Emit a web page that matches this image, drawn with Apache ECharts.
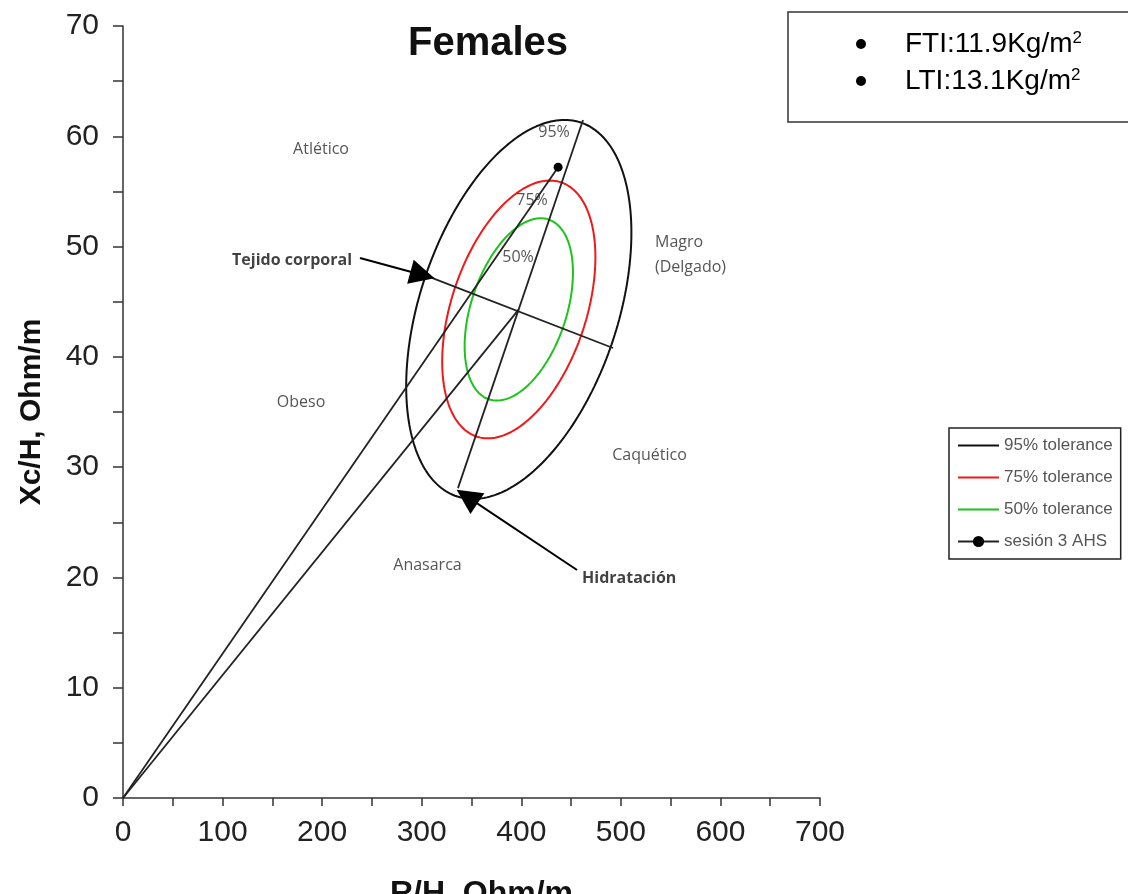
<!DOCTYPE html>
<html><head><meta charset="utf-8">
<script src="https://cdn.jsdelivr.net/npm/echarts@6/dist/echarts.min.js"></script>
<style>html,body{margin:0;padding:0;background:#fff;overflow:hidden}#c{width:1128px;height:894px}</style>
</head><body><div id="c"></div>
<script>
// ---- axes ----
const xAxisTicks = [0, 100, 200, 300, 400, 500, 600, 700];
const yAxisTicks = [0, 10, 20, 30, 40, 50, 60, 70];
const xAxisName = 'R/H, Ohm/m';
const yAxisName = 'Xc/H, Ohm/m';
const chartTitle = 'Females';

// ---- reference population (tolerance ellipses) ----
const refMean = [397.5, 44.3];      // mean R/H, mean Xc/H
const refSD = [46.2, 7.02];         // SD of R/H, SD of Xc/H
const refCorr = 0.405;              // correlation R/H - Xc/H
const toleranceNames = ['95% tolerance', '75% tolerance', '50% tolerance'];
const toleranceProb = [0.95, 0.75, 0.50];
const toleranceColors = ['#111111', '#f01818', '#1cc41c'];

// ---- patient ----
const patientName = 'sesión 3 AHS';
const patientPoint = [437, 57.2];

// ---- ellipse axes (major = hydration, minor = soft tissue) ----
const majorAxisEnds = [[462, 61.47], [336.4, 28.1]];
const minorAxisEnds = [[308.3, 47.23], [492.1, 40.8]];

// ---- arrows ----
const arrowNames = ['Tejido corporal', 'Hidratación'];
const arrowStarts = [[238.0, 48.96], [456.0, 20.67]];
const arrowEnds = [[300.8, 47.42], [345.5, 27.33]];
const arrowLabelAnchors = [[230.0, 48.78], [461.0, 19.95]];

// ---- region labels ----
const regionLabels = ['Atlético', 'Obeso', 'Caquético', 'Anasarca'];
const regionLabelAnchors = [[198.9, 58.84], [178.8, 35.9], [528.8, 31.1], [305.8, 21.12]];
const leftAlignedLabels = ['Magro', '(Delgado)'];
const leftAlignedAnchors = [[534.3, 50.4], [534.3, 48.14]];
const toleranceLabels = ['95%', '75%', '50%'];
const toleranceLabelAnchors = [[432.9, 60.38], [410.8, 54.2], [396.7, 49.05]];

// ---- info box ----
const infoLines = [['FTI:11.9Kg/m', '2'], ['LTI:13.1Kg/m', '2']];

function toleranceEllipse(p) {
  const k = Math.sqrt(-2 * Math.log(1 - p));
  const pts = [];
  const s = Math.sqrt(1 - refCorr * refCorr);
  for (let i = 0; i <= 240; i++) {
    const t = 2 * Math.PI * i / 240;
    pts.push([
      refMean[0] + k * refSD[0] * Math.cos(t),
      refMean[1] + k * refSD[1] * (refCorr * Math.cos(t) + s * Math.sin(t))
    ]);
  }
  return pts;
}

const chart = echarts.init(document.getElementById('c'), null, {renderer: 'canvas'});
const FONT = 'Liberation Sans, Arial, sans-serif';
const LFONT = 'Open Sans, Noto Sans, sans-serif';
const LINE_ICON = 'path://M0,0H40V2H0Z';

const series = [];
toleranceNames.forEach((n, i) => {
  series.push({
    name: n, type: 'line', data: toleranceEllipse(toleranceProb[i]),
    symbol: 'none', showSymbol: false, smooth: false, z: 3,
    lineStyle: {color: toleranceColors[i], width: 2}, itemStyle: {color: toleranceColors[i]}
  });
});
series.push({
  name: patientName, type: 'line',
  data: [{value: [0, 0], symbol: 'none'}, {value: patientPoint}],
  symbol: 'circle', symbolSize: 9, z: 5,
  lineStyle: {color: '#222', width: 1.8}, itemStyle: {color: '#000'}
});
const blackLine = (name, d) => ({
  name, type: 'line', data: d, symbol: 'none', z: 4,
  lineStyle: {color: '#222', width: 1.8}
});
series.push(blackLine('_center', [[0, 0], refMean]));
series.push(blackLine('_major', majorAxisEnds));
series.push(blackLine('_minor', minorAxisEnds));
series.push({
  name: '_arrows', type: 'line', data: [], z: 6,
  markLine: {
    silent: true, animation: false,
    symbol: ['none', 'triangle'], symbolSize: [25, 25],
    label: {show: false},
    lineStyle: {color: '#000', width: 2, type: 'solid'},
    itemStyle: {color: '#000'},
    data: arrowStarts.map((s, i) => [{coord: s}, {coord: arrowEnds[i]}])
  }
});
const textSeries = (name, anchors, labels, pos, style) => ({
  name, type: 'scatter', symbolSize: 0, z: 7, silent: true,
  data: anchors.map((a, i) => ({value: a, name: labels[i]})),
  label: Object.assign({show: true, position: pos, distance: 0, formatter: p => p.name,
    fontFamily: LFONT, fontSize: 16, color: '#2a2a2a'}, style || {})
});
series.push(textSeries('_regions', regionLabelAnchors, regionLabels, 'inside'));
series.push(textSeries('_regionsL', leftAlignedAnchors, leftAlignedLabels, 'right'));
series.push(textSeries('_tol', toleranceLabelAnchors, toleranceLabels, 'inside'));
series.push(textSeries('_arrowL1', [arrowLabelAnchors[0]], [arrowNames[0]], 'left', {fontWeight: 'bold', color: '#111'}));
series.push(textSeries('_arrowL2', [arrowLabelAnchors[1]], [arrowNames[1]], 'right', {fontWeight: 'bold', color: '#111'}));

const option = {
  animation: false,
  backgroundColor: '#fff',
  grid: {left: 123, right: 308, top: 26, bottom: 96, containLabel: false, outerBoundsMode: 'none'},
  xAxis: {
    type: 'value', min: xAxisTicks[0], max: xAxisTicks[xAxisTicks.length - 1],
    interval: xAxisTicks[1] - xAxisTicks[0],
    name: xAxisName, nameLocation: 'middle', nameGap: 80,
    nameTextStyle: {fontFamily: FONT, fontSize: 32, fontWeight: 'bold', color: '#111', padding: [0, 0, 0, 20]},
    axisLine: {show: true, onZero: false, lineStyle: {color: '#333', width: 1.5}},
    axisTick: {show: true, length: 8, inside: false, lineStyle: {color: '#333', width: 1.5}},
    minorTick: {show: true, splitNumber: 2, length: 8, lineStyle: {color: '#333', width: 1.5}},
    axisLabel: {fontFamily: FONT, fontSize: 30, color: '#222', margin: 20},
    splitLine: {show: false}
  },
  yAxis: {
    type: 'value', min: yAxisTicks[0], max: yAxisTicks[yAxisTicks.length - 1],
    interval: yAxisTicks[1] - yAxisTicks[0],
    name: yAxisName, nameLocation: 'middle', nameGap: 76, nameRotate: 90,
    nameTextStyle: {fontFamily: FONT, fontSize: 30, fontWeight: 'bold', color: '#111'},
    axisLine: {show: true, onZero: false, lineStyle: {color: '#333', width: 1.5}},
    axisTick: {show: true, length: 10, inside: false, lineStyle: {color: '#333', width: 1.5}},
    minorTick: {show: true, splitNumber: 2, length: 10, lineStyle: {color: '#333', width: 1.5}},
    axisLabel: {fontFamily: FONT, fontSize: 30, color: '#222', margin: 24},
    splitLine: {show: false}
  },
  legend: {
    show: true, orient: 'vertical', left: 949, top: 428,
    data: [
      {name: toleranceNames[0], icon: LINE_ICON},
      {name: toleranceNames[1], icon: LINE_ICON},
      {name: toleranceNames[2], icon: LINE_ICON},
      {name: patientName}
    ],
    itemWidth: 41, itemHeight: 14, itemGap: 15,
    padding: [9, 8, 9, 8],
    borderColor: '#222', borderWidth: 1.5,
    textStyle: {fontFamily: FONT, fontSize: 17, color: '#555'},
    selectedMode: false
  },
  graphic: [
    {type: 'text', x: 488, y: 44, style: {text: chartTitle, font: 'bold 40px ' + FONT, fill: '#111', align: 'center', verticalAlign: 'middle'}},
    {type: 'rect', shape: {x: 788, y: 12, width: 360, height: 110}, style: {fill: 'none', stroke: '#333', lineWidth: 1.5}},
    {type: 'circle', shape: {cx: 861, cy: 44, r: 5}, style: {fill: '#000'}},
    {type: 'circle', shape: {cx: 861, cy: 81, r: 5}, style: {fill: '#000'}},
    {type: 'text', x: 905, y: 44, style: {text: '{a|' + infoLines[0][0] + '}{s|' + infoLines[0][1] + '}', verticalAlign: 'middle',
      rich: {a: {fontFamily: FONT, fontSize: 28, color: '#111'}, s: {fontFamily: FONT, fontSize: 17, color: '#111', verticalAlign: 'top', padding: [0, 0, 12, 0]}}}},
    {type: 'text', x: 905, y: 81, style: {text: '{a|' + infoLines[1][0] + '}{s|' + infoLines[1][1] + '}', verticalAlign: 'middle',
      rich: {a: {fontFamily: FONT, fontSize: 28, color: '#111'}, s: {fontFamily: FONT, fontSize: 17, color: '#111', verticalAlign: 'top', padding: [0, 0, 12, 0]}}}}
  ],
  series: series
};
chart.setOption(option);
</script>
</body></html>
